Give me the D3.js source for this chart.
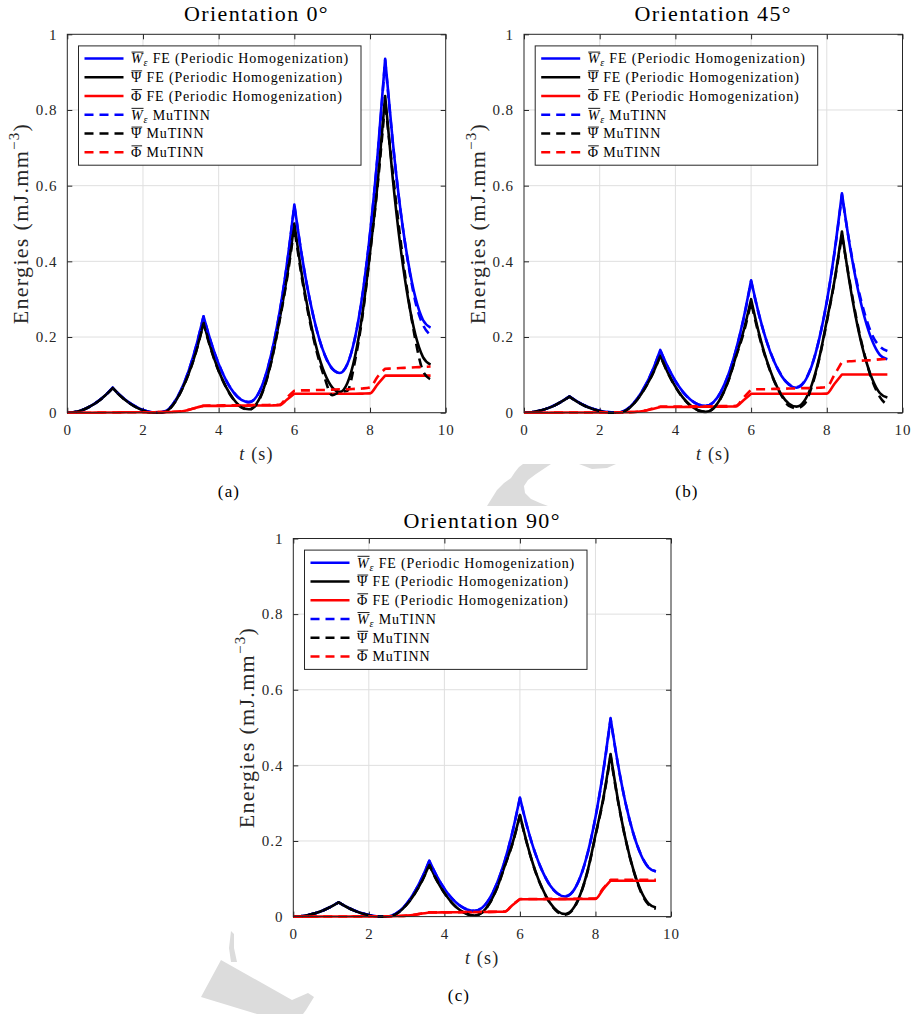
<!DOCTYPE html>
<html>
<head>
<meta charset="utf-8">
<script src="https://cdn.jsdelivr.net/npm/d3@7/dist/d3.min.js"></script>
<style>
  body { margin: 0; background: #fff; }
  svg { display: block; }
  text { font-family: "Liberation Serif", "Times New Roman", serif; }
</style>
</head>
<body>
<svg id="fig" width="914" height="1014"></svg>
<script>
// ---- sampling instants (s) ----
const time = [0,0.2,0.4,0.6,0.8,1,1.2,1.4,1.6,1.8,2,2.2,2.4,2.6,2.8,3,3.2,3.4,3.6,3.8,4,4.2,4.4,4.6,4.8,5,5.2,5.4,5.6,5.8,6,6.2,6.4,6.6,6.8,7,7.2,7.4,7.6,7.8,8,8.2,8.4,8.6,8.8,9,9.2,9.4,9.6];
// load reversals (s): the energy curves have corners there
const reversals = [1.2, 3.6, 6, 8.4];

// ---- orientation 0° ----
const W_fe_0   = [0,0.0018,0.0073,0.0165,0.0293,0.0458,0.066,0.0458,0.0293,0.0165,0.0073,0.0018,0.0004,0.0043,0.0236,0.0583,0.1085,0.174,0.255,0.186,0.129,0.085,0.053,0.034,0.028,0.0425,0.086,0.159,0.26,0.39,0.55,0.414,0.303,0.216,0.154,0.117,0.105,0.128,0.197,0.312,0.474,0.681,0.935,0.718,0.54,0.403,0.304,0.245,0.225];
const Psi_fe_0 = [0,0.0018,0.0073,0.0165,0.0291,0.0454,0.0654,0.045,0.0283,0.0155,0.0061,0.0005,0,0.0028,0.0216,0.0553,0.1015,0.161,0.238,0.168,0.111,0.067,0.035,0.015,0.009,0.024,0.067,0.14,0.241,0.356,0.5,0.364,0.253,0.166,0.104,0.067,0.055,0.078,0.147,0.262,0.423,0.606,0.837,0.62,0.442,0.305,0.206,0.147,0.127];
const Phi_fe_0 = [0,0,0,0,0.0002,0.0004,0.0006,0.0008,0.001,0.001,0.0012,0.0013,0.0014,0.0015,0.002,0.003,0.007,0.013,0.018,0.018,0.018,0.0182,0.0184,0.0186,0.0188,0.019,0.019,0.0192,0.0195,0.034,0.05,0.05,0.05,0.05,0.05,0.05,0.05,0.05,0.05,0.0505,0.051,0.075,0.098,0.098,0.098,0.098,0.098,0.098,0.098];
const W_nn_0   = [0,0.0018,0.0072,0.0164,0.0292,0.0456,0.066,0.0458,0.0292,0.0164,0.0073,0.0018,0.0004,0.0044,0.0238,0.0585,0.1085,0.174,0.254,0.185,0.129,0.085,0.053,0.034,0.028,0.042,0.085,0.158,0.258,0.388,0.548,0.413,0.302,0.215,0.153,0.116,0.105,0.128,0.196,0.31,0.472,0.678,0.932,0.716,0.538,0.4,0.293,0.232,0.205];
const Psi_nn_0 = [0,0.0018,0.0072,0.0164,0.029,0.0452,0.0652,0.0448,0.0282,0.0154,0.006,0.0005,0,0.0026,0.0214,0.055,0.1008,0.16,0.236,0.166,0.11,0.066,0.034,0.014,0.008,0.022,0.065,0.138,0.238,0.35,0.49,0.356,0.246,0.158,0.092,0.046,0.055,0.058,0.135,0.255,0.42,0.6,0.822,0.635,0.462,0.312,0.192,0.11,0.088];
const Phi_nn_0 = [0,0,0,0,0.0002,0.0004,0.0006,0.0008,0.001,0.0011,0.0012,0.0013,0.0014,0.0017,0.0024,0.0035,0.0075,0.0135,0.0185,0.019,0.0192,0.0194,0.0196,0.0198,0.02,0.0202,0.0204,0.0206,0.021,0.04,0.058,0.059,0.059,0.06,0.06,0.061,0.062,0.062,0.063,0.064,0.067,0.095,0.116,0.117,0.118,0.119,0.12,0.121,0.122];

// ---- orientation 45° ----
const W_fe_45   = [0,0.0012,0.0048,0.0108,0.019,0.03,0.043,0.03,0.019,0.011,0.005,0.0015,0.0003,0.0028,0.0154,0.038,0.0706,0.113,0.166,0.121,0.084,0.055,0.0345,0.022,0.018,0.0272,0.055,0.101,0.166,0.249,0.35,0.263,0.192,0.137,0.0975,0.0739,0.066,0.0803,0.123,0.195,0.294,0.423,0.58,0.446,0.336,0.251,0.19,0.153,0.141];
const Psi_fe_45 = [0,0.0012,0.0048,0.0108,0.0188,0.0297,0.0426,0.0295,0.0184,0.0103,0.0042,0.0006,0,0.0016,0.0139,0.0355,0.0656,0.103,0.151,0.106,0.069,0.0398,0.0191,0.0064,0.0022,0.0112,0.039,0.0848,0.1495,0.216,0.3,0.213,0.142,0.087,0.0475,0.0239,0.016,0.0303,0.073,0.1448,0.2435,0.347,0.479,0.345,0.235,0.15,0.089,0.052,0.04];
const Phi_fe_45 = [0,0,0,0,0.0002,0.0003,0.0004,0.0005,0.0006,0.0007,0.0008,0.0009,0.001,0.0012,0.0015,0.0025,0.005,0.01,0.015,0.015,0.015,0.0152,0.0154,0.0156,0.0158,0.016,0.016,0.0162,0.0165,0.033,0.05,0.05,0.05,0.05,0.05,0.05,0.05,0.05,0.05,0.0502,0.0505,0.076,0.101,0.101,0.101,0.101,0.101,0.101,0.101];
const W_nn_45   = [0,0.0012,0.0048,0.0108,0.019,0.0298,0.0428,0.0298,0.019,0.011,0.005,0.0015,0.0003,0.003,0.0156,0.0382,0.0706,0.1125,0.165,0.12,0.083,0.0545,0.034,0.022,0.018,0.027,0.0545,0.1,0.165,0.247,0.347,0.262,0.192,0.138,0.099,0.0755,0.068,0.082,0.124,0.195,0.293,0.42,0.576,0.448,0.342,0.262,0.205,0.175,0.163];
const Psi_nn_45 = [0,0.0012,0.0048,0.0108,0.0188,0.0296,0.0424,0.0293,0.0183,0.0103,0.0042,0.0006,0,0.0017,0.014,0.0356,0.0655,0.1025,0.15,0.105,0.068,0.039,0.0185,0.006,0.002,0.011,0.0385,0.084,0.148,0.21,0.292,0.208,0.14,0.086,0.046,0.018,0.012,0.022,0.068,0.142,0.24,0.345,0.47,0.35,0.24,0.152,0.085,0.042,0.02];
const Phi_nn_45 = [0,0,0,0,0.0002,0.0003,0.0004,0.0005,0.0006,0.0007,0.0008,0.0009,0.001,0.0013,0.0016,0.0027,0.0055,0.011,0.016,0.016,0.0162,0.0164,0.0166,0.0168,0.017,0.0172,0.0174,0.0176,0.018,0.04,0.061,0.062,0.062,0.063,0.063,0.064,0.064,0.065,0.065,0.066,0.068,0.1,0.134,0.136,0.137,0.138,0.139,0.141,0.142];

// ---- orientation 90° ----
const W_fe_90   = [0,0.001,0.0042,0.0095,0.0169,0.0264,0.038,0.0264,0.0169,0.0095,0.0042,0.001,0.0002,0.0025,0.0137,0.0339,0.063,0.101,0.148,0.107,0.074,0.048,0.0298,0.0187,0.015,0.0233,0.0483,0.09,0.148,0.223,0.315,0.235,0.169,0.119,0.082,0.0603,0.053,0.0661,0.1054,0.171,0.263,0.381,0.525,0.401,0.299,0.2205,0.164,0.13,0.119];
const Psi_fe_90 = [0,0.001,0.0042,0.0095,0.0168,0.0262,0.0377,0.026,0.0164,0.0089,0.0035,0.0002,0,0.0015,0.0122,0.0314,0.0585,0.093,0.137,0.096,0.0628,0.0366,0.0182,0.0069,0.003,0.0111,0.0359,0.0773,0.135,0.193,0.269,0.189,0.123,0.073,0.036,0.0143,0.007,0.0199,0.059,0.1244,0.216,0.309,0.43,0.306,0.204,0.1255,0.069,0.035,0.024];
const Phi_fe_90 = [0,0,0,0,0.0001,0.0002,0.0003,0.0004,0.0005,0.0006,0.0007,0.0008,0.0009,0.001,0.0015,0.0025,0.0045,0.008,0.011,0.011,0.0112,0.0114,0.0116,0.0118,0.012,0.0122,0.0124,0.0127,0.013,0.03,0.046,0.046,0.046,0.046,0.046,0.046,0.046,0.0462,0.0464,0.0466,0.047,0.072,0.095,0.095,0.095,0.095,0.095,0.095,0.095];
const W_nn_90   = [0,0.001,0.0042,0.0095,0.0169,0.0264,0.0378,0.0264,0.0169,0.0095,0.0042,0.001,0.0002,0.0026,0.0138,0.034,0.063,0.1005,0.147,0.1065,0.074,0.048,0.03,0.019,0.0155,0.0235,0.048,0.0895,0.147,0.222,0.313,0.234,0.169,0.119,0.0825,0.061,0.054,0.0665,0.105,0.17,0.262,0.379,0.522,0.4,0.299,0.221,0.165,0.131,0.12];
const Psi_nn_90 = [0,0.001,0.0042,0.0095,0.0168,0.0262,0.0375,0.026,0.0164,0.0089,0.0035,0.0002,0,0.0016,0.0123,0.0315,0.0585,0.0925,0.136,0.0955,0.0625,0.0365,0.018,0.0068,0.003,0.011,0.0355,0.077,0.134,0.192,0.267,0.188,0.122,0.072,0.035,0.012,0.005,0.018,0.058,0.123,0.214,0.306,0.425,0.304,0.203,0.124,0.066,0.032,0.021];
const Phi_nn_90 = [0,0,0,0,0.0001,0.0002,0.0003,0.0004,0.0005,0.0006,0.0007,0.0008,0.0009,0.001,0.0015,0.0026,0.0046,0.0082,0.0112,0.0113,0.0114,0.0116,0.0118,0.012,0.0122,0.0124,0.0126,0.0129,0.0132,0.031,0.0465,0.0466,0.0467,0.0468,0.0469,0.047,0.047,0.0472,0.0474,0.0476,0.048,0.074,0.097,0.097,0.097,0.097,0.097,0.097,0.097];

// ---- axes ticks and legend entries ----
const xTicks = [0, 2, 4, 6, 8, 10];
const yTicks = [0, 0.2, 0.4, 0.6, 0.8, 1];
const legendSymbols = ["W", "\u03A8", "\u03A6", "W", "\u03A8", "\u03A6"];
const legendSubs    = ["\u03B5", "", "", "\u03B5", "", ""];
const legendTexts   = [" FE (Periodic Homogenization)", " FE (Periodic Homogenization)", " FE (Periodic Homogenization)", " MuTINN", " MuTINN", " MuTINN"];
const titles = ["Orientation 0\u00B0", "Orientation 45\u00B0", "Orientation 90\u00B0"];
const tags = ["(a)", "(b)", "(c)"];

const seriesColors = ["#0000ff", "#000000", "#ff0000", "#0000ff", "#000000", "#ff0000"];
const seriesDashed = [false, false, false, true, true, true];
const AXIS = "#262626";

const svg = d3.select("#fig");

// faint watermark fragments showing between the sub-figures
const wm = svg.append("g").attr("fill", "#dcdcdc");
[
  [[487,506],[497,490],[504,483],[511,478],[515,472],[519,467],[523,464],[551,464],[545,468],[536,474],[528,480],[524,486],[525,493],[531,499],[540,503],[548,506]],
  [[579,464],[616,464],[607,468],[592,469]],
  [[231,931],[234,934],[234,948],[237,962],[231,962],[229,948]],
  [[221,960],[292,1000],[308,993],[314,997],[306,1010],[303,1014],[257,1014],[201,997]]
].forEach(pts => wm.append("path").attr("d", "M" + pts.map(p => p.join(",")).join("L") + "Z"));

const panels = [
  { box: [67.3, 445.7, 34.3, 412.7], titleY: 20.7, tagX: 229,
    series: [W_fe_0, Psi_fe_0, Phi_fe_0, W_nn_0, Psi_nn_0, Phi_nn_0] },
  { box: [524, 902.5, 34.3, 412.7], titleY: 20.7, tagX: 687,
    series: [W_fe_45, Psi_fe_45, Phi_fe_45, W_nn_45, Psi_nn_45, Phi_nn_45] },
  { box: [293.3, 671, 538.5, 916.6], titleY: 528, tagX: 459,
    series: [W_fe_90, Psi_fe_90, Phi_fe_90, W_nn_90, Psi_nn_90, Phi_nn_90] }
];

// split points (sample indices) at the load reversals
const cuts = [0, ...reversals.map(r => time.indexOf(r)), time.length - 1];

panels.forEach((p, k) => {
  const [L, R, T, B] = p.box;
  const x = d3.scaleLinear().domain([0, 10]).range([L, R]);
  const y = d3.scaleLinear().domain([0, 1]).range([B, T]);
  const g = svg.append("g");

  g.append("rect").attr("x", L).attr("y", T).attr("width", R - L).attr("height", B - T).attr("fill", "#fff");

  // grid
  const grid = g.append("g").attr("stroke", "#dfdfdf").attr("stroke-width", 1);
  grid.selectAll(".gx").data(xTicks.slice(1, -1)).join("line")
    .attr("x1", d => x(d)).attr("x2", d => x(d)).attr("y1", T).attr("y2", B);
  grid.selectAll(".gy").data(yTicks.slice(1, -1)).join("line")
    .attr("y1", d => y(d)).attr("y2", d => y(d)).attr("x1", L).attr("x2", R);

  // axes with inward ticks on all four sides
  const styleAxis = sel => {
    sel.select(".domain").remove();
    sel.selectAll(".tick line").attr("stroke", AXIS);
    sel.selectAll(".tick text").attr("fill", AXIS).attr("font-size", 15)
      .attr("font-family", "Liberation Serif").attr("letter-spacing", 0.9);
  };
  g.append("g").attr("transform", `translate(0,${B})`)
    .call(d3.axisBottom(x).tickValues(xTicks).tickSizeInner(-5).tickSizeOuter(0).tickPadding(12).tickFormat(d => String(d)))
    .call(styleAxis);
  g.append("g").attr("transform", `translate(0,${T})`)
    .call(d3.axisTop(x).tickValues(xTicks).tickSizeInner(-5).tickSizeOuter(0).tickFormat(""))
    .call(styleAxis);
  g.append("g").attr("transform", `translate(${L},0)`)
    .call(d3.axisLeft(y).tickValues(yTicks).tickSizeInner(-5).tickSizeOuter(0).tickPadding(10).tickFormat(d => String(d)))
    .call(styleAxis);
  g.append("g").attr("transform", `translate(${R},0)`)
    .call(d3.axisRight(y).tickValues(yTicks).tickSizeInner(-5).tickSizeOuter(0).tickFormat(""))
    .call(styleAxis);

  // curves: smooth between reversals, corners kept at the reversals
  const seg = d3.line().x(i => x(time[i])).curve(d3.curveMonotoneX);
  const pathOf = s => {
    let d = "";
    for (let c = 0; c < cuts.length - 1; c++) {
      const idx = d3.range(cuts[c], cuts[c + 1] + 1);
      const part = seg.y(i => y(s[i]))(idx);
      d += c === 0 ? part : "L" + part.slice(1);
    }
    return d;
  };
  p.series.forEach((s, i) => {
    g.append("path").attr("d", pathOf(s)).attr("fill", "none")
      .attr("stroke", seriesColors[i]).attr("stroke-width", 2.6)
      .attr("stroke-linejoin", "round")
      .attr("stroke-dasharray", seriesDashed[i] ? "9,6" : null);
  });

  // frame
  g.append("rect").attr("x", L).attr("y", T).attr("width", R - L).attr("height", B - T)
    .attr("fill", "none").attr("stroke", AXIS).attr("stroke-width", 1);

  // title, axis labels, sub-figure tag
  g.append("text").attr("x", (L + R) / 2).attr("y", p.titleY).attr("text-anchor", "middle")
    .attr("font-size", 22).attr("letter-spacing", 1.4).attr("fill", "#000").text(titles[k]);

  const xl = g.append("text").attr("x", (L + R) / 2).attr("y", B + 47).attr("text-anchor", "middle")
    .attr("font-size", 18).attr("letter-spacing", 1.2).attr("fill", AXIS);
  xl.append("tspan").attr("font-style", "italic").text("t");
  xl.append("tspan").text(" (s)");

  const yl = g.append("text").attr("transform", `translate(${L - 39},${(T + B) / 2}) rotate(-90)`)
    .attr("text-anchor", "middle").attr("font-size", 22).attr("letter-spacing", 1.3).attr("fill", AXIS);
  yl.append("tspan").text("Energies (mJ.mm");
  yl.append("tspan").attr("font-size", 15).attr("dy", -9).text("\u22123");
  yl.append("tspan").attr("dy", 9).text(")");

  g.append("text").attr("x", p.tagX).attr("y", B + 84.5).attr("text-anchor", "middle")
    .attr("font-size", 17).attr("letter-spacing", 1.2).attr("fill", "#000").text(tags[k]);

  // legend
  const lx = L + 11.2, ly = T + 11.6, lw = 282.5, lh = 119.3;
  const lg = g.append("g");
  lg.append("rect").attr("x", lx).attr("y", ly).attr("width", lw).attr("height", lh)
    .attr("fill", "#fff").attr("stroke", AXIS).attr("stroke-width", 1);
  legendSymbols.forEach((sym, i) => {
    const cy = ly + 12.6 + i * 18.75;
    lg.append("line").attr("x1", lx + 6).attr("x2", lx + 45).attr("y1", cy).attr("y2", cy)
      .attr("stroke", seriesColors[i]).attr("stroke-width", 2.6)
      .attr("stroke-dasharray", seriesDashed[i] ? "9,6" : null);
    const fs = 14, base = cy + 4.8;
    const t = lg.append("text").attr("x", lx + 52.5).attr("y", base).attr("font-size", fs)
      .attr("letter-spacing", 0.85).attr("fill", "#000");
    t.append("tspan").attr("font-style", sym === "W" ? "italic" : null).text(sym);
    if (legendSubs[i]) {
      t.append("tspan").attr("font-size", 10).attr("font-style", "italic").attr("dy", 3).text(legendSubs[i]);
      t.append("tspan").attr("dy", -3).text(legendTexts[i]);
    } else {
      t.append("tspan").text(legendTexts[i]);
    }
    const ext = t.node().getExtentOfChar(0);
    lg.append("line").attr("x1", ext.x + 0.5).attr("x2", ext.x + ext.width)
      .attr("y1", base - 0.8 * fs).attr("y2", base - 0.8 * fs)
      .attr("stroke", "#000").attr("stroke-width", 0.9);
  });
});
</script>
</body>
</html>
